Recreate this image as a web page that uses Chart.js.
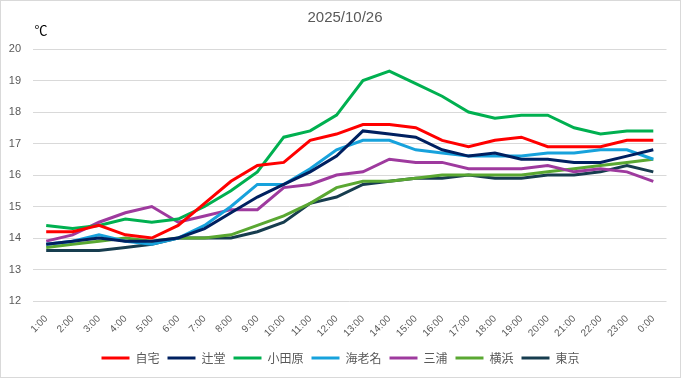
<!DOCTYPE html>
<html><head><meta charset="utf-8">
<script src="https://cdn.jsdelivr.net/npm/chart.js@4/dist/chart.umd.min.js"></script>
<style>html,body{margin:0;padding:0;background:#fff}#wrap{width:681px;height:378px;position:relative}canvas{display:block}</style>
</head><body><div id="wrap"><canvas id="c" width="681" height="378"></canvas></div>
<script>
const chartTitle = '2025/10/26';
const unitLabel = '℃';
const hours = ['1:00','2:00','3:00','4:00','5:00','6:00','7:00','8:00','9:00','10:00','11:00','12:00','13:00','14:00','15:00','16:00','17:00','18:00','19:00','20:00','21:00','22:00','23:00','0:00'];
const seriesNames = ['自宅','辻堂','小田原','海老名','三浦','横浜','東京'];
const jitaku   = [14.2,14.2,14.4,14.1,14.0,14.4,15.1,15.8,16.3,16.4,17.1,17.3,17.6,17.6,17.5,17.1,16.9,17.1,17.2,16.9,16.9,16.9,17.1,17.1];
const tsujido  = [13.8,13.9,14.0,13.9,13.9,14.0,14.3,14.8,15.3,15.7,16.1,16.6,17.4,17.3,17.2,16.8,16.6,16.7,16.5,16.5,16.4,16.4,16.6,16.8];
const odawara  = [14.4,14.3,14.4,14.6,14.5,14.6,15.0,15.5,16.1,17.2,17.4,17.9,19.0,19.3,18.9,18.5,18.0,17.8,17.9,17.9,17.5,17.3,17.4,17.4];
const ebina    = [13.8,13.9,14.1,13.9,13.8,14.0,14.4,15.0,15.7,15.7,16.2,16.8,17.1,17.1,16.8,16.7,16.6,16.6,16.6,16.7,16.7,16.8,16.8,16.5];
const miura    = [13.9,14.1,14.5,14.8,15.0,14.5,14.7,14.9,14.9,15.6,15.7,16.0,16.1,16.5,16.4,16.4,16.2,16.2,16.2,16.3,16.1,16.2,16.1,15.8];
const yokohama = [13.7,13.8,13.9,14.0,13.9,14.0,14.0,14.1,14.4,14.7,15.1,15.6,15.8,15.8,15.9,16.0,16.0,16.0,16.0,16.1,16.2,16.3,16.4,16.5];
const tokyo    = [13.6,13.6,13.6,13.7,13.8,14.0,14.0,14.0,14.2,14.5,15.1,15.3,15.7,15.8,15.9,15.9,16.0,15.9,15.9,16.0,16.0,16.1,16.3,16.1];
const yMin = 12, yMax = 20, yStep = 1;

const seriesData = [jitaku, tsujido, odawara, ebina, miura, yokohama, tokyo];
const seriesColors = ['#FF0000','#002060','#00B050','#17A2DC','#9E3A9E','#5AA832','#173D4F'];

const decor = {
  id: 'decor',
  afterDraw(chart) {
    const ctx = chart.ctx;
    ctx.save();
    ctx.strokeStyle = '#D9D9D9';
    ctx.lineWidth = 1;
    ctx.strokeRect(0.5, 0.5, 680, 377);
    ctx.fillStyle = '#595959';
    ctx.font = '15px "Liberation Sans", Arial, sans-serif';
    ctx.textAlign = 'center';
    ctx.textBaseline = 'middle';
    ctx.fillText(chartTitle, 345, 18);
    ctx.fillStyle = '#000000';
    ctx.font = '13px "Noto Sans CJK JP", sans-serif';
    ctx.fillText(unitLabel, 41, 30);
    ctx.restore();
  }
};

new Chart(document.getElementById('c'), {
  type: 'line',
  data: {
    labels: hours,
    datasets: seriesNames.map((n, i) => ({
      label: n,
      data: seriesData[i],
      borderColor: seriesColors[i],
      backgroundColor: seriesColors[i],
      borderWidth: 3,
      pointRadius: 0,
      pointHoverRadius: 0,
      tension: 0,
      fill: false
    }))
  },
  options: {
    responsive: false,
    devicePixelRatio: 1,
    animation: false,
    layout: { padding: { top: 49, bottom: 4, left: 0, right: 0 } },
    plugins: {
      title: { display: false },
      tooltip: { enabled: false },
      legend: {
        position: 'bottom',
        labels: {
          usePointStyle: true,
          pointStyle: 'line',
          pointStyleWidth: 28,
          boxHeight: 12,
          padding: 8,
          color: '#595959',
          font: { size: 12, family: '"Noto Sans CJK JP", sans-serif' }
        }
      }
    },
    scales: {
      x: {
        offset: true,
        grid: { display: false, drawTicks: false },
        border: { display: false },
        ticks: {
          autoSkip: false, minRotation: 45, maxRotation: 45, padding: 12,
          color: '#595959', font: { size: 10, family: '"Liberation Sans", Arial, sans-serif' }
        },
        afterFit(s) { s.height = 43; }
      },
      y: {
        min: yMin, max: yMax,
        grid: { color: '#D9D9D9', lineWidth: 1, drawTicks: false },
        border: { display: false },
        ticks: {
          stepSize: yStep, padding: 12, color: '#595959',
          font: { size: 11, family: '"Liberation Sans", Arial, sans-serif' }
        },
        afterFit(s) { s.width = 33; }
      },
      yR: {
        position: 'right',
        display: true,
        grid: { display: false, drawTicks: false },
        border: { display: false },
        ticks: { display: false },
        afterFit(s) { s.width = 14.5; }
      }
    }
  },
  plugins: [decor]
});
</script></body></html>
